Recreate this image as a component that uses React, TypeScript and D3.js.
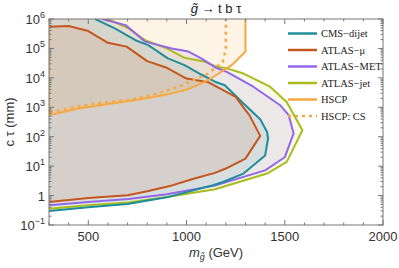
import * as d3 from "d3";
import React from "react";

// contours: [gluino mass (GeV), c tau (mm)]
const cmsDijet: [number, number][] = [
  [535, 1e6], [635, 4.8e5], [740, 1.9e5], [805, 1.3e5], [905, 4.6e4], [990, 2.7e4],
  [1075, 1.3e4], [1145, 7.4e3], [1195, 5.6e3], [1290, 1.35e3], [1375, 390], [1410, 145],
  [1415, 87], [1400, 23], [1290, 5.6], [1185, 2.9], [1120, 2.1], [900, 0.87],
  [700, 0.52], [500, 0.4], [300, 0.3],
];
const atlasMu: [number, number][] = [
  [300, 5.4e5], [400, 5.8e5], [500, 3.9e5], [600, 1.55e5], [695, 1.15e5], [800, 3.7e4],
  [900, 2.2e4], [1000, 9.5e3], [1110, 7.1e3], [1250, 2.26e3], [1300, 800], [1320, 540],
  [1375, 107], [1300, 18], [1200, 8.3], [1145, 5.9], [1040, 3.8], [915, 2.1],
  [800, 1.4], [700, 1.02], [500, 0.83], [300, 0.6],
];
const atlasMet: [number, number][] = [
  [570, 1e6], [690, 6.2e5], [790, 1.7e5], [925, 1e5], [1010, 7.8e4], [1075, 4.6e4],
  [1145, 2.3e4], [1205, 1.6e4], [1340, 5e3], [1475, 1.2e3], [1520, 540], [1545, 130],
  [1500, 20], [1400, 7.2], [1145, 2.2], [900, 1.1], [705, 0.76], [500, 0.6], [300, 0.47],
];
const atlasJet: [number, number][] = [
  [600, 1e6], [705, 4.8e5], [790, 1.9e5], [900, 1e5], [990, 4.8e4], [1095, 3.5e4],
  [1145, 2.5e4], [1205, 2.1e4], [1290, 1.4e4], [1425, 5e3], [1510, 1.5e3], [1590, 165],
  [1510, 14], [1410, 5.6], [1145, 1.65], [900, 0.89], [705, 0.58], [500, 0.47], [300, 0.36],
];
const hscp: [number, number][] = [
  [300, 1e6], [300, 540], [450, 910], [620, 1.35e3], [790, 2e3], [905, 2.75e3],
  [1010, 4.2e3], [1110, 8.3e3], [1230, 2.7e4], [1300, 7.8e4], [1300, 1e6],
];
const hscpCS: [number, number][] = [
  [305, 690], [535, 1.35e3], [705, 1.75e3], [825, 2.6e3], [960, 5e3], [1110, 1.4e4],
  [1185, 3.5e4], [1200, 1e5], [1200, 1e6],
];

const xTicks = [500, 1000, 1500, 2000];
const yExps = [-1, 0, 1, 2, 3, 4, 5, 6];

const series = [
  { name: "ATLAS−jet", data: atlasJet, color: "#a8bc1c" },
  { name: "ATLAS−MET", data: atlasMet, color: "#9466e8" },
  { name: "CMS−dijet", data: cmsDijet, color: "#1f8e9a" },
  { name: "ATLAS−μ", data: atlasMu, color: "#c5561c" },
];
const legendItems = [
  { name: "CMS−dijet", color: "#1f8e9a", dash: "" },
  { name: "ATLAS−μ", color: "#c5561c", dash: "" },
  { name: "ATLAS−MET", color: "#9466e8", dash: "" },
  { name: "ATLAS−jet", color: "#a8bc1c", dash: "" },
  { name: "HSCP", color: "#f7a940", dash: "" },
  { name: "HSCP: CS", color: "#f7a940", dash: "3,4" },
];

const W = 399, H = 268;
const m = { left: 49, right: 16, top: 19, bottom: 43 };

export default function App() {
  const x = d3.scaleLinear().domain([300, 2000]).range([m.left, W - m.right]);
  const y = d3.scaleLog().domain([0.1, 1e6]).range([H - m.bottom, m.top]);
  const line = d3.line<[number, number]>().x(d => x(d[0])).y(d => y(d[1]));
  // fill closes along left edge / top-left corner
  const fillPath = (d: [number, number][]) => {
    const pts = [...d];
    if (d[0][1] >= 1e6) pts.unshift([300, 1e6]);
    return line(pts) + "Z";
  };

  const minorX = d3.range(300, 2001, 100).filter(v => v % 500 !== 0);
  const minorY: number[] = [];
  for (let e = -1; e < 6; e++) for (let k = 2; k < 10; k++) minorY.push(k * 10 ** e);

  const x0 = m.left, x1 = W - m.right, y0 = m.top, y1 = H - m.bottom;
  const tc = "#555";

  return (
    <svg width={W} height={H} style={{ position: "absolute", left: 0, top: 0, background: "#fff" }}
      fontFamily="Liberation Sans, Arial, sans-serif">
      <defs>
        <clipPath id="plot"><rect x={x0} y={y0} width={x1 - x0} height={y1 - y0} /></clipPath>
      </defs>
      <g clipPath="url(#plot)">
        <path d={line(hscp) + "Z"} fill="#f7a940" fillOpacity={0.13} />
        {series.map(s => (
          <path key={s.name} d={fillPath(s.data)} fill={s.color} fillOpacity={0.1} />
        ))}
        {series.map(s => (
          <path key={s.name} d={line(s.data) ?? ""} fill="none" stroke={s.color} strokeWidth={2} strokeLinejoin="round" />
        ))}
        <path d={line(hscp) ?? ""} fill="none" stroke="#f7a940" strokeWidth={2} />
        <path d={line(hscpCS) ?? ""} fill="none" stroke="#f7a940" strokeWidth={2.5} strokeDasharray="3,4" />
      </g>
      {/* frame */}
      <rect x={x0} y={y0} width={x1 - x0} height={y1 - y0} fill="none" stroke="#777" strokeWidth={1} />
      {xTicks.map(v => (
        <g key={v}>
          <line x1={x(v)} x2={x(v)} y1={y1} y2={y1 - 5} stroke="#777" />
          <line x1={x(v)} x2={x(v)} y1={y0} y2={y0 + 5} stroke="#777" />
          <text x={x(v)} y={y1 + 16} textAnchor="middle" fontSize={13} fill="#333">{v}</text>
        </g>
      ))}
      {minorX.map(v => (
        <g key={v}>
          <line x1={x(v)} x2={x(v)} y1={y1} y2={y1 - 2.5} stroke="#777" />
          <line x1={x(v)} x2={x(v)} y1={y0} y2={y0 + 2.5} stroke="#777" />
        </g>
      ))}
      {yExps.map(e => (
        <g key={e}>
          <line x1={x0} x2={x0 + 5} y1={y(10 ** e)} y2={y(10 ** e)} stroke="#777" />
          <line x1={x1} x2={x1 - 5} y1={y(10 ** e)} y2={y(10 ** e)} stroke="#777" />
          <text x={x0 - 4} y={y(10 ** e) + 5} textAnchor="end" fontSize={13} fill="#333">
            {e === 0 ? "1" : <>10<tspan fontSize={9} dy={-6}>{e < 0 ? "−1" : e}</tspan></>}
          </text>
        </g>
      ))}
      {minorY.map(v => (
        <g key={v}>
          <line x1={x0} x2={x0 + 2.5} y1={y(v)} y2={y(v)} stroke="#777" />
          <line x1={x1} x2={x1 - 2.5} y1={y(v)} y2={y(v)} stroke="#777" />
        </g>
      ))}
      {/* title & labels */}
      <text x={(x0 + x1) / 2} y={13} textAnchor="middle" fontSize={13} fill="#222">
        <tspan fontStyle="italic">g̃</tspan> → t b τ
      </text>
      <text x={(x0 + x1) / 2} y={257} textAnchor="middle" fontSize={13} fill="#333">
        <tspan fontStyle="italic">m</tspan><tspan fontSize={9} dy={3} fontStyle="italic">g̃</tspan><tspan dy={-3}> (GeV)</tspan>
      </text>
      <text transform={`translate(14,${(y0 + y1) / 2}) rotate(-90)`} textAnchor="middle" fontSize={13} fill="#333">
        c τ (mm)
      </text>
      {/* legend */}
      <g fontFamily="Liberation Serif, Times New Roman, serif">
        {legendItems.map((d, i) => {
          const ly = 33.5 + i * 16.5;
          return (
            <g key={d.name}>
              <line x1={288} x2={317} y1={ly} y2={ly} stroke={d.color} strokeWidth={2.5} strokeDasharray={d.dash || undefined} />
              <text x={321} y={ly + 3.5} fontSize={10.5} fill="#222">{d.name}</text>
            </g>
          );
        })}
      </g>
    </svg>
  );
}
